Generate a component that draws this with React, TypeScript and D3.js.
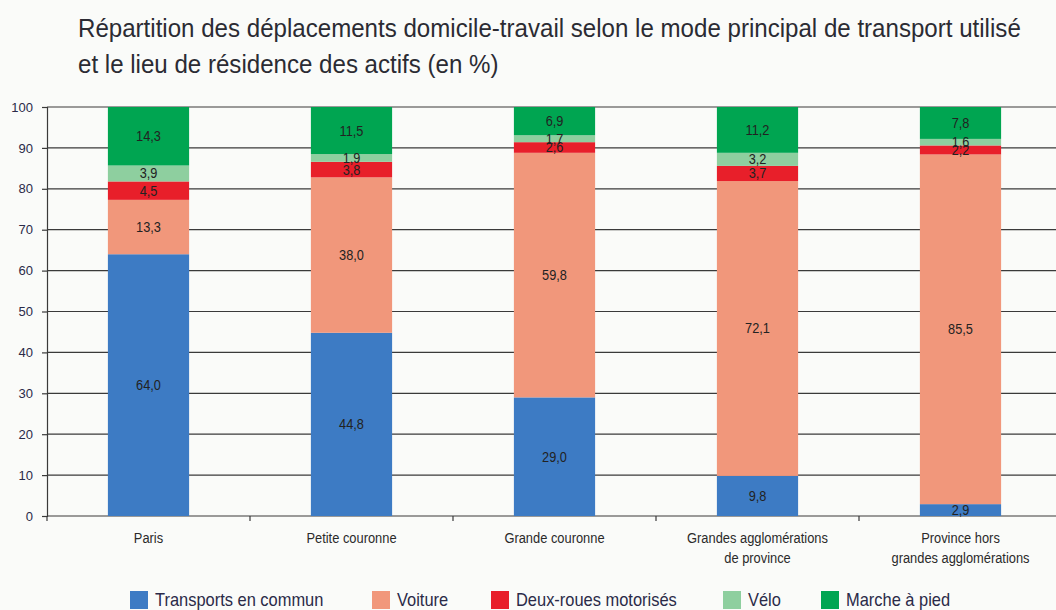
import React, { useEffect, useRef } from "react";
import * as d3 from "d3";

const categories = [
  ["Paris"],
  ["Petite couronne"],
  ["Grande couronne"],
  ["Grandes agglomérations", "de province"],
  ["Province hors", "grandes agglomérations"],
];
const seriesNames = ["Transports en commun", "Voiture", "Deux-roues motorisés", "Vélo", "Marche à pied"];
const seriesColors = ["#3d7bc4", "#f1977b", "#e81f2a", "#8ecf9f", "#00a551"];
const transports = [64.0, 44.8, 29.0, 9.8, 2.9];
const voiture = [13.3, 38.0, 59.8, 72.1, 85.5];
const deuxRoues = [4.5, 3.8, 2.6, 3.7, 2.2];
const velo = [3.9, 1.9, 1.7, 3.2, 1.6];
const marche = [14.3, 11.5, 6.9, 11.2, 7.8];
const yTicks = [0, 10, 20, 30, 40, 50, 60, 70, 80, 90, 100];
const legendX = [130, 372, 491, 723, 821];

const W = 1056;
const H = 610;
const margin = { top: 107, left: 47, bottom: 94, right: -6 };
const font = "'Liberation Sans', Arial, sans-serif";

const App = () => {
  const ref = useRef<SVGSVGElement>(null);

  useEffect(() => {
    const svg = d3.select(ref.current);
    svg.selectAll("*").remove();

    const plotH = H - margin.top - margin.bottom;
    const x = d3
      .scaleBand<number>()
      .domain(categories.map((_, i) => i))
      .range([margin.left, W - margin.right])
      .paddingInner(0)
      .paddingOuter(0);
    const y = d3.scaleLinear().domain([0, 100]).range([margin.top + plotH, margin.top]);

    svg.append("rect").attr("width", W).attr("height", H).attr("fill", "#fafbf9");

    // title (condensed look)
    const title = svg
      .append("text")
      .attr("transform", "translate(78,0) scale(0.964,1)")
      .attr("font-family", font)
      .attr("font-size", 25)
      .attr("fill", "#2b2b33");
    title.append("tspan").attr("x", 0).attr("y", 37).text("Répartition des déplacements domicile-travail selon le mode principal de transport utilisé");
    title.append("tspan").attr("x", 0).attr("y", 73).text("et le lieu de résidence des actifs (en %)");

    // grid
    svg
      .append("g")
      .selectAll("line")
      .data(yTicks)
      .join("line")
      .attr("x1", margin.left)
      .attr("x2", W)
      .attr("y1", (d) => y(d))
      .attr("y2", (d) => y(d))
      .attr("stroke", "#3a3a3a")
      .attr("stroke-width", 1.2);

    // y axis
    const yAxis = svg
      .append("g")
      .attr("transform", `translate(${margin.left},0)`)
      .call(d3.axisLeft(y).tickValues(yTicks).tickSize(5).tickPadding(9));
    yAxis.select(".domain").attr("stroke", "#3a3a3a").attr("stroke-width", 1.2);
    yAxis.selectAll(".tick line").attr("stroke", "#3a3a3a").attr("stroke-width", 1.2);
    yAxis.selectAll("text").attr("font-family", font).attr("font-size", 13).attr("fill", "#2a2a48");

    // x axis ticks
    const bounds = categories.map((_, i) => x(i)! + x.bandwidth());
    svg
      .append("g")
      .selectAll("line")
      .data([margin.left, ...bounds])
      .join("line")
      .attr("x1", (d) => d)
      .attr("x2", (d) => d)
      .attr("y1", y(0))
      .attr("y2", y(0) + 5)
      .attr("stroke", "#3a3a3a")
      .attr("stroke-width", 1.2);

    svg
      .append("g")
      .selectAll("text")
      .data(categories)
      .join("text")
      .attr("font-family", font)
      .attr("font-size", 14)
      .attr("fill", "#2a2a2a")
      .attr("text-anchor", "middle")
      .attr("transform", (_, i) => `translate(${x(i)! + x.bandwidth() / 2},${y(0) + 27}) scale(0.92,1)`)
      .each(function (lines) {
        d3.select(this)
          .selectAll("tspan")
          .data(lines)
          .join("tspan")
          .attr("x", 0)
          .attr("y", (_, j) => j * 20)
          .text((d) => d);
      });

    // stacked bars
    const table = categories.map((_, i) => ({
      i,
      s0: transports[i],
      s1: voiture[i],
      s2: deuxRoues[i],
      s3: velo[i],
      s4: marche[i],
    }));
    const stack = d3.stack<any>().keys(["s0", "s1", "s2", "s3", "s4"])(table);
    const barW = x.bandwidth() * 0.4;

    stack.forEach((layer, k) => {
      const g = svg.append("g");
      g.selectAll("rect")
        .data(layer)
        .join("rect")
        .attr("x", (d) => x(d.data.i)! + (x.bandwidth() - barW) / 2)
        .attr("width", barW)
        .attr("y", (d) => y(d[1]))
        .attr("height", (d) => y(d[0]) - y(d[1]))
        .attr("fill", seriesColors[k]);
    });

    stack.forEach((layer) => {
      svg
        .append("g")
        .selectAll("text")
        .data(layer)
        .join("text")
        .attr(
          "transform",
          (d) => `translate(${x(d.data.i)! + x.bandwidth() / 2},${(y(d[0]) + y(d[1])) / 2 + 5}) scale(0.88,1)`
        )
        .attr("text-anchor", "middle")
        .attr("font-family", font)
        .attr("font-size", 14.5)
        .attr("fill", "#222")
        .text((d) => (d[1] - d[0]).toFixed(1).replace(".", ","));
    });

    // legend
    const legend = svg
      .append("g")
      .selectAll("g")
      .data(seriesNames)
      .join("g")
      .attr("transform", (_, i) => `translate(${legendX[i]},591)`);
    legend.append("rect").attr("width", 18).attr("height", 18).attr("fill", (_, i) => seriesColors[i]);
    legend
      .append("text")
      .attr("transform", "translate(25,15) scale(0.94,1)")
      .attr("font-family", font)
      .attr("font-size", 17.5)
      .attr("fill", "#2a2a48")
      .text((d) => d);
  }, []);

  return <svg ref={ref} width={W} height={H} style={{ position: "absolute", left: 0, top: 0 }} />;
};

export default App;
